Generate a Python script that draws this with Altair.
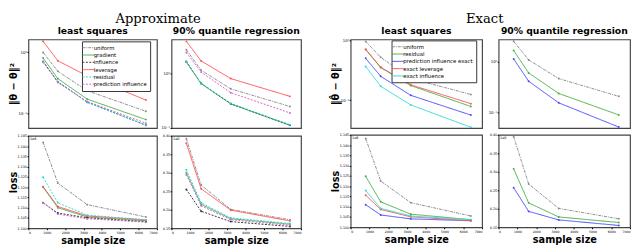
import altair as alt
import pandas as pd

sizes = [800, 1600, 3200, 6400]

a_names = ['uniform', 'gradient', 'influence', 'leverage', 'residual', 'prediction influence']
a_colors = ['#8c8c8c', '#44b044', '#333333', '#ff5050', '#30d8d8', '#d860d8']
a_dashes = [[3, 1, 1, 1], [1, 0], [2, 1.5], [1, 0], [2, 1.5], [2, 1.5]]

b_names = ['uniform', 'residual', 'prediction influence exact', 'exact leverage', 'exact influence']
b_colors = ['#8c8c8c', '#44b044', '#4848ff', '#ff5050', '#30d8d8']
b_dashes = [[3, 1, 1, 1], [1, 0], [1, 0], [1, 0], [1, 0]]

# Approximate - least squares - parameter error
a_ls_err = {
    'uniform': [1.0, 0.49, 0.234, 0.107],
    'gradient': [0.81, 0.37, 0.17, 0.078],
    'influence': [0.71, 0.33, 0.152, 0.063],
    'leverage': [1.53, 0.73, 0.41, 0.164],
    'residual': [0.69, 0.325, 0.150, 0.063],
    'prediction influence': [0.70, 0.32, 0.155, 0.068],
}
# Approximate - 90% quantile regression - parameter error
a_qr_err = {
    'uniform': [2.8, 1.17, 0.53, 0.25],
    'gradient': [1.65, 0.66, 0.28, 0.112],
    'influence': [1.70, 0.67, 0.28, 0.113],
    'leverage': [4.0, 1.74, 0.82, 0.385],
    'residual': [1.68, 0.67, 0.285, 0.115],
    'prediction influence': [2.49, 1.08, 0.45, 0.19],
}
# Approximate - least squares - loss (x1e6)
a_ls_loss = {
    'uniform': [1.1418, 1.1220, 1.1115, 1.1055],
    'gradient': [1.1200, 1.1100, 1.1055, 1.1037],
    'influence': [1.1124, 1.1074, 1.1051, 1.1032],
    'leverage': [1.1202, 1.1106, 1.1060, 1.1041],
    'residual': [1.1248, 1.1124, 1.1064, 1.1041],
    'prediction influence': [1.1124, 1.1069, 1.1046, 1.1030],
}
# Approximate - 90% quantile regression - loss
a_qr_loss = {
    'uniform': [4.392, 4.267, 4.201, 4.173],
    'gradient': [4.300, 4.215, 4.176, 4.161],
    'influence': [4.255, 4.196, 4.168, 4.155],
    'leverage': [4.380, 4.257, 4.199, 4.170],
    'residual': [4.308, 4.219, 4.178, 4.163],
    'prediction influence': [4.295, 4.211, 4.173, 4.158],
}
# Exact - least squares - parameter error
b_ls_err = {
    'uniform': [0.96, 0.52, 0.23, 0.124],
    'residual': [0.70, 0.35, 0.175, 0.078],
    'prediction influence exact': [0.50, 0.25, 0.12, 0.056],
    'exact leverage': [0.71, 0.355, 0.18, 0.087],
    'exact influence': [0.365, 0.17, 0.083, 0.035],
}
# Exact - 90% quantile regression - parameter error
b_qr_err = {
    'uniform': [2.55, 1.09, 0.464, 0.206],
    'residual': [1.67, 0.60, 0.235, 0.088],
    'prediction influence exact': [1.14, 0.41, 0.153, 0.0506],
}
# Exact - least squares - loss (x1e6)
b_ls_loss = {
    'uniform': [1.1432, 1.1225, 1.1120, 1.1055],
    'residual': [1.1248, 1.1124, 1.1064, 1.1037],
    'prediction influence exact': [1.1110, 1.1060, 1.1041, 1.1032],
    'exact leverage': [1.1156, 1.1087, 1.1051, 1.1032],
    'exact influence': [1.1179, 1.1092, 1.1055, 1.1037],
}
# Exact - 90% quantile regression - loss
b_qr_loss = {
    'uniform': [4.395, 4.267, 4.201, 4.173],
    'residual': [4.308, 4.216, 4.178, 4.163],
    'prediction influence exact': [4.257, 4.193, 4.170, 4.155],
}

ls_loss_ticks = [1.100, 1.105, 1.110, 1.115, 1.120, 1.125, 1.130, 1.135, 1.140, 1.145]
qr_loss_ticks = [4.15, 4.20, 4.25, 4.30, 4.35, 4.40]
x_ticks = [0, 1000, 2000, 3000, 4000, 5000, 6000, 7000]

FONT = 'DejaVu Sans'
TOP_H = 91
BOT_H = 95


def long(d, names):
    rows = []
    for s in names:
        if s in d:
            for n, v in zip(sizes, d[s]):
                rows.append({'n': n, 'v': v, 's': s})
    return pd.DataFrame(rows)


def label(t, x, y, size, font=FONT, weight='normal', align='center', baseline='top'):
    return alt.Chart(pd.DataFrame({'t': [t]})).mark_text(
        fontSize=size, font=font, fontWeight=weight, align=align, baseline=baseline, color='black'
    ).encode(text='t:N', x=alt.value(x), y=alt.value(y))


def yaxis_common(title, **kw):
    args = dict(labelFontSize=3.4, tickSize=1.5, labelPadding=0.5, domain=False, grid=False,
                labelFont=FONT, labelColor='black', tickColor='black', minExtent=10)
    args.update(kw)
    if title is None:
        args['title'] = None
    else:
        args.update(title=title, titleFontSize=10, titleFont=FONT, titleX=-10, titleBaseline='bottom',
                    titleAngle=-90, titleColor='black')
    return alt.Axis(**args)


def panel(d, names, colors, dashes, w, h, yscale, yaxis, xaxis, legend=None, extra=()):
    df = long(d, names)
    base = alt.Chart(df).mark_line(strokeWidth=1, point=alt.OverlayMarkDef(filled=True, size=4)).encode(
        x=alt.X('n:Q', scale=alt.Scale(domain=[0, 7000], nice=False, zero=False), axis=xaxis),
        y=alt.Y('v:Q', scale=yscale, axis=yaxis),
        color=alt.Color('s:N', scale=alt.Scale(domain=names, range=colors), legend=legend),
        strokeDash=alt.StrokeDash('s:N', scale=alt.Scale(domain=names, range=dashes), legend=legend),
    )
    return alt.layer(base, *extra).properties(width=w, height=h)


def mk_legend(x, y):
    return alt.Legend(orient='none', legendX=x, legendY=y, title=None, symbolType='M-2.2,0H2.2',
                      symbolSize=30, symbolStrokeWidth=1, labelFontSize=5.5, labelFont=FONT,
                      rowPadding=0.5, padding=3, fillColor='white', strokeColor='#333333',
                      labelLimit=300, labelOffset=2, labelColor='black')


def log_axis(title, vals):
    return yaxis_common(title, values=vals,
                        labelExpr="datum.value >= 1 ? '10⁰' : '10⁻¹'", labelFontSize=4)


def bottom_xaxis():
    return alt.Axis(values=x_ticks, format='d', labelFontSize=3.2, tickSize=1.5, labelPadding=0.5,
                    domain=False, grid=False, title='sample size', titleFontSize=10,
                    titleFontWeight='bold', titlePadding=2, titleFont=FONT, labelFont=FONT,
                    labelColor='black', tickColor='black', titleColor='black', labelFlush=True)


theta_title = '‖θ̂ − θ‖²'


def group(name, names, colors, dashes, wl, wr, gap, title_dx,
          ls_err, qr_err, ls_loss, qr_loss, ls_dom, qr_dom, leg_x, leg_y, qr_off):
    tl = panel(ls_err, names, colors, dashes, wl, TOP_H,
               alt.Scale(type='log', domain=ls_dom, nice=False), log_axis(theta_title, [0.1, 1]), None,
               legend=mk_legend(leg_x, leg_y),
               extra=[label('least squares', wl / 2, -14, 9.5, weight='bold')])
    tr = panel(qr_err, names, colors, dashes, wr, TOP_H,
               alt.Scale(type='log', domain=qr_dom, nice=False), log_axis(None, [0.1, 1]), None,
               legend=None,
               extra=[label('90% quantile regression', wr / 2, -14, 9.5, weight='bold')])
    bl = panel(ls_loss, names, colors, dashes, wl, BOT_H,
               alt.Scale(domain=[1.100, 1.145], nice=False, zero=False),
               yaxis_common('loss', values=ls_loss_ticks, format='.3f', titleFontWeight='bold'),
               bottom_xaxis(), legend=None,
               extra=[label('1e6', 1.5, 1, 3.5, align='left')])
    br = panel(qr_loss, names, colors, dashes, wr, BOT_H,
               alt.Scale(domain=[4.15, 4.40], nice=False, zero=False),
               yaxis_common(None, values=qr_loss_ticks, format='.2f'),
               bottom_xaxis(), legend=None,
               extra=[label(qr_off, 1.5, 1, 3.5, align='left')])
    return alt.concat(
        tl, tr, bl, br, columns=2, spacing={'row': 2, 'column': gap - 10},
        title=alt.TitleParams(name, font='DejaVu Serif', fontSize=13.5, fontWeight='normal',
                              anchor='middle', offset=0, dx=title_dx, color='black'),
    ).resolve_scale(color='independent', strokeDash='independent')


ga = group('Approximate', a_names, a_colors, a_dashes, 132, 133, 11, 3,
           a_ls_err, a_qr_err, a_ls_loss, a_qr_loss,
           [0.0567, 1.642], [0.1, 4.345], 55, 2, '1e0')
gb = group('Exact', b_names, b_colors, b_dashes, 135, 135, 13, 4,
           b_ls_err, b_qr_err, b_ls_loss, b_qr_loss,
           [0.034, 1.037], [0.0484, 2.78], 42, 1, '1e0')

chart = alt.hconcat(ga, gb, spacing=28).resolve_scale(
    color='independent', strokeDash='independent'
).properties(padding=0, background='white').configure_view(stroke='#444444', strokeWidth=1.2)

chart.save('out.html', embed_options={'renderer': 'svg', 'actions': False})
